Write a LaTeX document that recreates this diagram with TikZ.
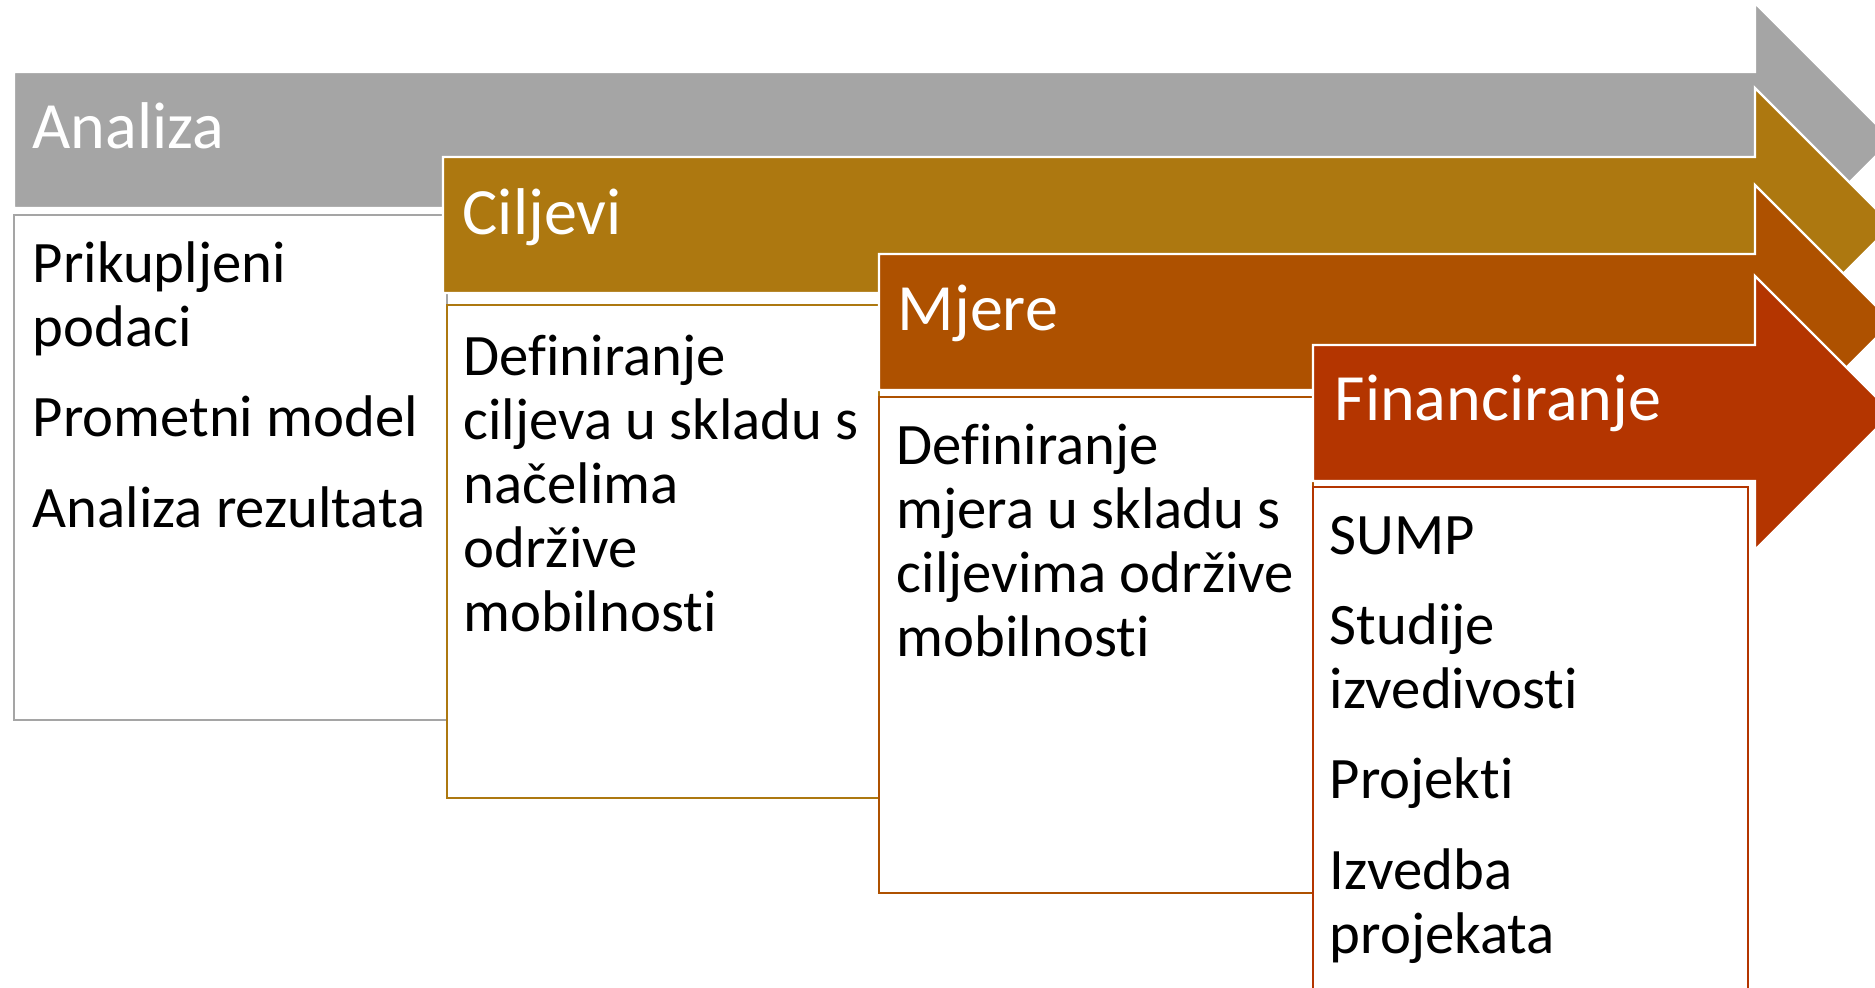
\documentclass[tikz,border=0pt]{standalone}
\usepackage{fontspec}
\setmainfont{Carlito}[Ligatures=NoCommon]
\definecolor{analizagray}{RGB}{165,165,165}
\definecolor{ciljevigold}{RGB}{173,120,16}
\definecolor{mjererust}{RGB}{174,81,0}
\definecolor{financred}{RGB}{180,53,0}

\begin{document}
\begin{tikzpicture}[x=0.01cm,y=-0.01cm,
  stagebar/.style={fill=#1,draw=white,line width=0.7pt},
  stagebox/.style={fill=white,draw=#1,line width=0.6pt},
  headtxt/.style={anchor=base west,inner sep=0pt,text=white,font=\fontsize{18.8pt}{20pt}\selectfont},
  bodytxt/.style={anchor=base west,inner sep=0pt,align=left,font=\fontsize{16.7pt}{18.2pt}\selectfont}]
\useasboundingbox (0,0) rectangle (1875,987);
\clip (0,0) rectangle (1875,987);
% arrows with their boxes, back to front
\foreach \xl/\cy/\bl/\bt/\br/\bb/\col in {14/140/14/215/447/720/analizagray,
  443/225/447/305/879/798/ciljevigold,
  879/322/879/397/1313/893/mjererust,
  1313/413/1313/487/1748/1010/financred}
{
  \draw[stagebar=\col] (\xl,\cy-68) -- (1755,\cy-68) -- (1755,\cy-137) -- (1892,\cy)
    -- (1755,\cy+137) -- (1755,\cy+68) -- (\xl,\cy+68) -- cycle;
  \draw[stagebox=\col] (\bl,\bt) rectangle (\br,\bb);
}
% stage titles
\node[headtxt] (analiza) at (32,148) {Analiza};
\node[headtxt] (ciljevi) at (462,234) {Ciljevi};
\node[headtxt] (mjere) at (897,330) {Mjere};
\node[headtxt] (financiranje) at (1334,420) {Financiranje};
% box texts (base = last line)
\node[bodytxt] (analiza-txt) at (32,527) {Prikupljeni\\podaci\\[7.4pt]Prometni model\\[7.4pt]Analiza rezultata};
\node[bodytxt] (ciljevi-txt) at (463,631) {Definiranje\\ciljeva u skladu s\\načelima\\održive\\mobilnosti};
\node[bodytxt] (mjere-txt) at (896,656) {Definiranje\\mjera u skladu s\\ciljevima održive\\mobilnosti};
\node[bodytxt] (financiranje-txt) at (1329,953) {SUMP\\[7.4pt]Studije\\izvedivosti\\[7.4pt]Projekti\\[7.4pt]Izvedba\\projekata};
\end{tikzpicture}
\end{document}
